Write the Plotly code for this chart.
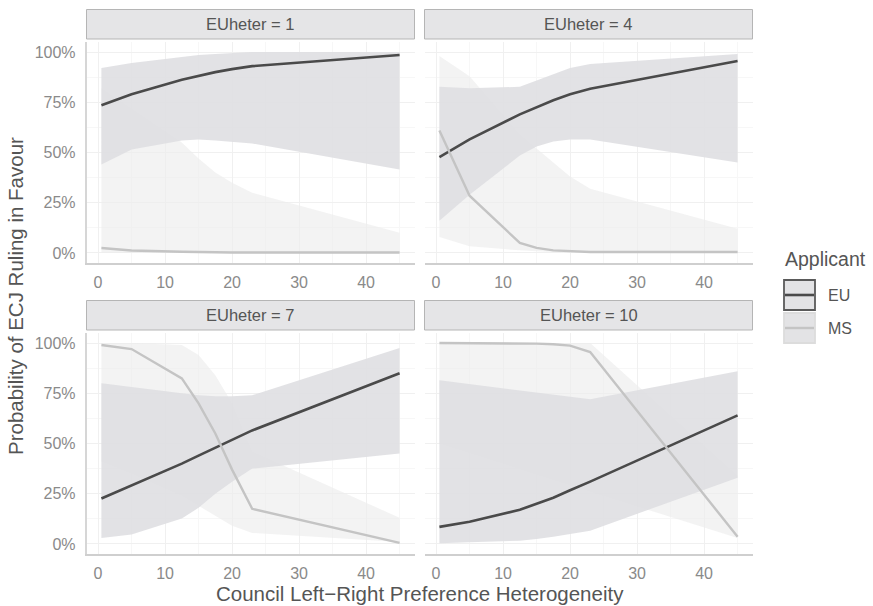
import plotly.graph_objects as go

# ---- data ----
x_vals = [0.5, 5, 12.5, 15, 17.5, 20, 23, 45]
panels = ["EUheter = 1", "EUheter = 4", "EUheter = 7", "EUheter = 10"]

eu_fit_1 = [0.735, 0.79, 0.862, 0.882, 0.90, 0.915, 0.93, 0.985]
eu_hi_1 = [0.92, 0.945, 0.975, 0.985, 0.99, 0.995, 1.0, 1.0]
eu_lo_1 = [0.44, 0.515, 0.56, 0.565, 0.56, 0.555, 0.545, 0.415]
ms_fit_1 = [0.025, 0.012, 0.006, 0.004, 0.003, 0.002, 0.002, 0.002]
ms_hi_1 = [0.82, 0.72, 0.55, 0.47, 0.40, 0.35, 0.30, 0.10]
ms_lo_1 = [0.0, 0.0, 0.0, 0.0, 0.0, 0.0, 0.0, 0.0]

eu_fit_4 = [0.477, 0.565, 0.69, 0.725, 0.76, 0.79, 0.817, 0.955]
eu_hi_4 = [0.827, 0.82, 0.827, 0.86, 0.89, 0.92, 0.94, 0.99]
eu_lo_4 = [0.16, 0.29, 0.485, 0.53, 0.555, 0.565, 0.565, 0.45]
ms_fit_4 = [0.61, 0.285, 0.05, 0.025, 0.013, 0.008, 0.005, 0.005]
ms_hi_4 = [0.98, 0.88, 0.59, 0.52, 0.45, 0.38, 0.32, 0.12]
ms_lo_4 = [0.08, 0.033, 0.013, 0.008, 0.005, 0.003, 0.002, 0.0]

eu_fit_7 = [0.226, 0.29, 0.40, 0.44, 0.48, 0.52, 0.565, 0.85]
eu_hi_7 = [0.80, 0.78, 0.75, 0.74, 0.735, 0.735, 0.74, 0.975]
eu_lo_7 = [0.03, 0.047, 0.127, 0.18, 0.25, 0.31, 0.375, 0.45]
ms_fit_7 = [0.99, 0.97, 0.824, 0.70, 0.55, 0.37, 0.175, 0.005]
ms_hi_7 = [1.0, 1.0, 0.99, 0.94, 0.84, 0.70, 0.46, 0.13]
ms_lo_7 = [0.41, 0.35, 0.24, 0.19, 0.14, 0.09, 0.055, 0.01]

eu_fit_10 = [0.085, 0.11, 0.17, 0.20, 0.23, 0.267, 0.31, 0.64]
eu_hi_10 = [0.815, 0.796, 0.764, 0.754, 0.743, 0.733, 0.72, 0.86]
eu_lo_10 = [0.003, 0.008, 0.016, 0.025, 0.036, 0.048, 0.066, 0.33]
ms_fit_10 = [1.0, 1.0, 0.999, 0.997, 0.994, 0.987, 0.955, 0.036]
ms_hi_10 = [1.0, 1.0, 1.0, 1.0, 1.0, 1.0, 1.0, 0.34]
ms_lo_10 = [0.50, 0.452, 0.372, 0.345, 0.318, 0.29, 0.26, 0.03]

x_ticks = [0, 10, 20, 30, 40]
y_ticks = [0, 0.25, 0.5, 0.75, 1.0]
y_tick_labels = ["0%", "25%", "50%", "75%", "100%"]

data = [
    (eu_fit_1, eu_hi_1, eu_lo_1, ms_fit_1, ms_hi_1, ms_lo_1),
    (eu_fit_4, eu_hi_4, eu_lo_4, ms_fit_4, ms_hi_4, ms_lo_4),
    (eu_fit_7, eu_hi_7, eu_lo_7, ms_fit_7, ms_hi_7, ms_lo_7),
    (eu_fit_10, eu_hi_10, eu_lo_10, ms_fit_10, ms_hi_10, ms_lo_10),
]

# ---- styling ----
W, H = 873, 606
FONT = "Liberation Sans, Arial, Helvetica, sans-serif"
EU_LINE = "#4a4a4a"
MS_LINE = "#c4c4c4"
EU_FILL = "rgba(222,222,225,0.88)"
MS_FILL = "rgba(236,236,236,0.65)"
TICK_COL = "#8a8a8a"
TITLE_COL = "#555555"


def px(p):
    return p / W


def py(p):
    return 1 - p / H


# panel pixel boxes (left, right, top, bottom) in page pixels
boxes = [
    (86.5, 414.5, 42, 263),
    (424.5, 752.5, 42, 263),
    (86.5, 414.5, 333, 554),
    (424.5, 752.5, 333, 554),
]

fig = go.Figure()
layout = {}
shapes = []
annotations = []

for i, ((ef, eh, el, mf, mh, ml), (l, r, t, b)) in enumerate(zip(data, boxes)):
    n = i + 1
    xa = "x" if n == 1 else f"x{n}"
    ya = "y" if n == 1 else f"y{n}"
    xref_key = "xaxis" if n == 1 else f"xaxis{n}"
    yref_key = "yaxis" if n == 1 else f"yaxis{n}"

    fig.add_trace(go.Scatter(x=x_vals + x_vals[::-1], y=mh + ml[::-1], fill="toself",
                             fillcolor=MS_FILL, line=dict(width=0), mode="lines",
                             hoverinfo="skip", showlegend=False, xaxis=xa, yaxis=ya))
    fig.add_trace(go.Scatter(x=x_vals + x_vals[::-1], y=eh + el[::-1], fill="toself",
                             fillcolor=EU_FILL, line=dict(width=0), mode="lines",
                             hoverinfo="skip", showlegend=False, xaxis=xa, yaxis=ya))
    fig.add_trace(go.Scatter(x=x_vals, y=ef, mode="lines", line=dict(color=EU_LINE, width=2.6),
                             name="EU", showlegend=False, xaxis=xa, yaxis=ya))
    fig.add_trace(go.Scatter(x=x_vals, y=mf, mode="lines", line=dict(color=MS_LINE, width=2.4),
                             name="MS", showlegend=False, xaxis=xa, yaxis=ya))

    left_col = n in (1, 3)
    layout[xref_key] = dict(
        domain=[px(l), px(r)], anchor=ya, range=[-1.725, 47.225],
        tickvals=x_ticks, ticktext=[str(v) for v in x_ticks],
        showgrid=True, gridcolor="#f0f0f0", gridwidth=1.2,
        minor=dict(dtick=5, tick0=0, showgrid=True, gridcolor="#f7f7f7", gridwidth=1),
        zeroline=False, showline=True, linecolor="#cfcfcf", linewidth=2.2,
        ticks="", tickfont=dict(size=16, color=TICK_COL, family=FONT), ticklabelstandoff=4,
    )
    layout[yref_key] = dict(
        domain=[py(b), py(t)], anchor=xa, range=[-0.05, 1.05],
        tickvals=y_ticks, ticktext=y_tick_labels, showticklabels=left_col,
        showgrid=True, gridcolor="#f0f0f0", gridwidth=1.2,
        minor=dict(dtick=0.125, tick0=0, showgrid=True, gridcolor="#f7f7f7", gridwidth=1),
        zeroline=False, showline=left_col, linecolor="#d6d6d6", linewidth=1.5,
        ticks="", tickfont=dict(size=16, color=TICK_COL, family=FONT), ticklabelstandoff=6,
    )

    st_top = t - 32.5
    st_bot = t - 3
    shapes.append(dict(type="rect", xref="paper", yref="paper",
                       x0=px(l), x1=px(r), y0=py(st_bot), y1=py(st_top),
                       fillcolor="#e5e5e7", line=dict(color="#b5b5b5", width=1), layer="below"))
    annotations.append(dict(text=panels[i], xref="paper", yref="paper",
                            x=px((l + r) / 2), y=py((st_top + st_bot) / 2),
                            showarrow=False, xanchor="center", yanchor="middle",
                            font=dict(size=16.5, color="#555555", family=FONT)))

annotations.append(dict(text="Council Left\u2212Right Preference Heterogeneity", xref="paper", yref="paper",
                        x=px(419.5), y=py(593), showarrow=False,
                        xanchor="center", yanchor="middle", font=dict(size=20.5, color=TITLE_COL, family=FONT)))
annotations.append(dict(text="Probability of ECJ Ruling in Favour", xref="paper", yref="paper",
                        x=px(15), y=py(296), showarrow=False, textangle=-90,
                        xanchor="center", yanchor="middle", font=dict(size=20.5, color=TITLE_COL, family=FONT)))

annotations.append(dict(text="Applicant", xref="paper", yref="paper", x=px(783), y=py(259),
                        showarrow=False, xanchor="left", yanchor="middle",
                        font=dict(size=19.5, color=TITLE_COL, family=FONT)))
leg = [("EU", EU_LINE, "#5a5a5a", 2.6, 280, 310), ("MS", MS_LINE, "#dcdcdc", 2.4, 313, 343)]
for name, lc, bc, lw, y0, y1 in leg:
    shapes.append(dict(type="rect", xref="paper", yref="paper", x0=px(784), x1=px(815),
                       y0=py(y1), y1=py(y0), fillcolor="#e3e3e5",
                       line=dict(color=bc, width=1.8)))
    ym = py((y0 + y1) / 2)
    shapes.append(dict(type="line", xref="paper", yref="paper", x0=px(785), x1=px(814),
                       y0=ym, y1=ym, line=dict(color=lc, width=lw)))
    annotations.append(dict(text=name, xref="paper", yref="paper", x=px(826), y=ym,
                            showarrow=False, xanchor="left", yanchor="middle",
                            font=dict(size=16, color="#555555", family=FONT)))

fig.update_layout(
    width=W, height=H, margin=dict(l=0, r=0, t=0, b=0),
    plot_bgcolor="white", paper_bgcolor="white", showlegend=False,
    shapes=shapes, annotations=annotations, **layout,
)

fig.write_html("out.html", config={"displayModeBar": False},
               post_script="document.body.style.margin='0px';")
